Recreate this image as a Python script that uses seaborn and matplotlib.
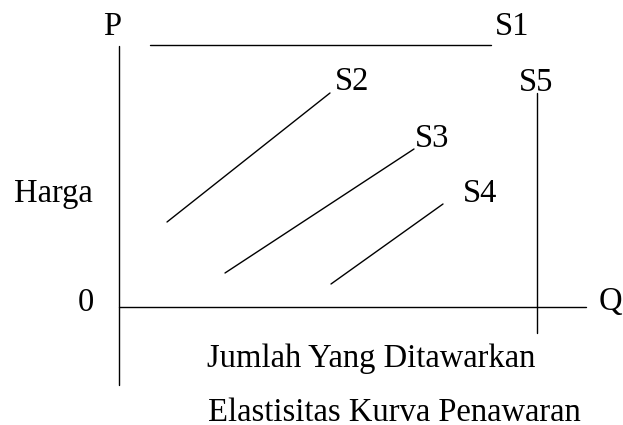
import pandas as pd
import matplotlib.pyplot as plt
import seaborn as sns

sns.set_theme(style="white")
plt.rcParams['font.family'] = ['Liberation Serif', 'DejaVu Serif']

# Segment endpoints, in picture units (x right, y down)
seg_names = ['axis_p', 'axis_q', 'S1', 'S2', 'S3', 'S4', 'S5']
x_start = [119, 119, 150, 167, 225, 331, 537]
x_end = [119, 586, 491, 330, 414, 443, 537]
y_start = [46, 307, 45, 222, 273, 284, 93]
y_end = [385, 307, 45, 93, 149, 204, 333]

# Labels (left edge, baseline)
label_text = ['P', 'S1', 'S2', 'S3', 'S4', 'S5', 'Harga', '0', 'Q',
              'Jumlah Yang Ditawarkan', 'Elastisitas Kurva Penawaran']
label_x = [103, 495, 335, 415, 463, 519, 14, 78, 599, 207, 208]
label_y = [35, 35, 90, 147, 202, 91, 202, 311, 310, 367, 421]

rows = []
for n, xs, xe, ys, ye in zip(seg_names, x_start, x_end, y_start, y_end):
    rows.append({'seg': n, 'x': xs, 'y': ys})
    rows.append({'seg': n, 'x': xe, 'y': ye})
df = pd.DataFrame(rows)

fig = plt.figure(figsize=(6.23, 4.25), dpi=100)
ax = fig.add_axes([0, 0, 1, 1])
sns.lineplot(data=df, x='x', y='y', units='seg', estimator=None,
             color='black', linewidth=1.0, sort=False, ax=ax)

for t, x, y in zip(label_text, label_x, label_y):
    ax.text(x, y, t, ha='left', va='baseline', fontsize=23.5, color='black')

ax.set_xlim(0, 623)
ax.set_ylim(425, 0)
ax.axis('off')
fig.savefig('out.png', dpi=100)
